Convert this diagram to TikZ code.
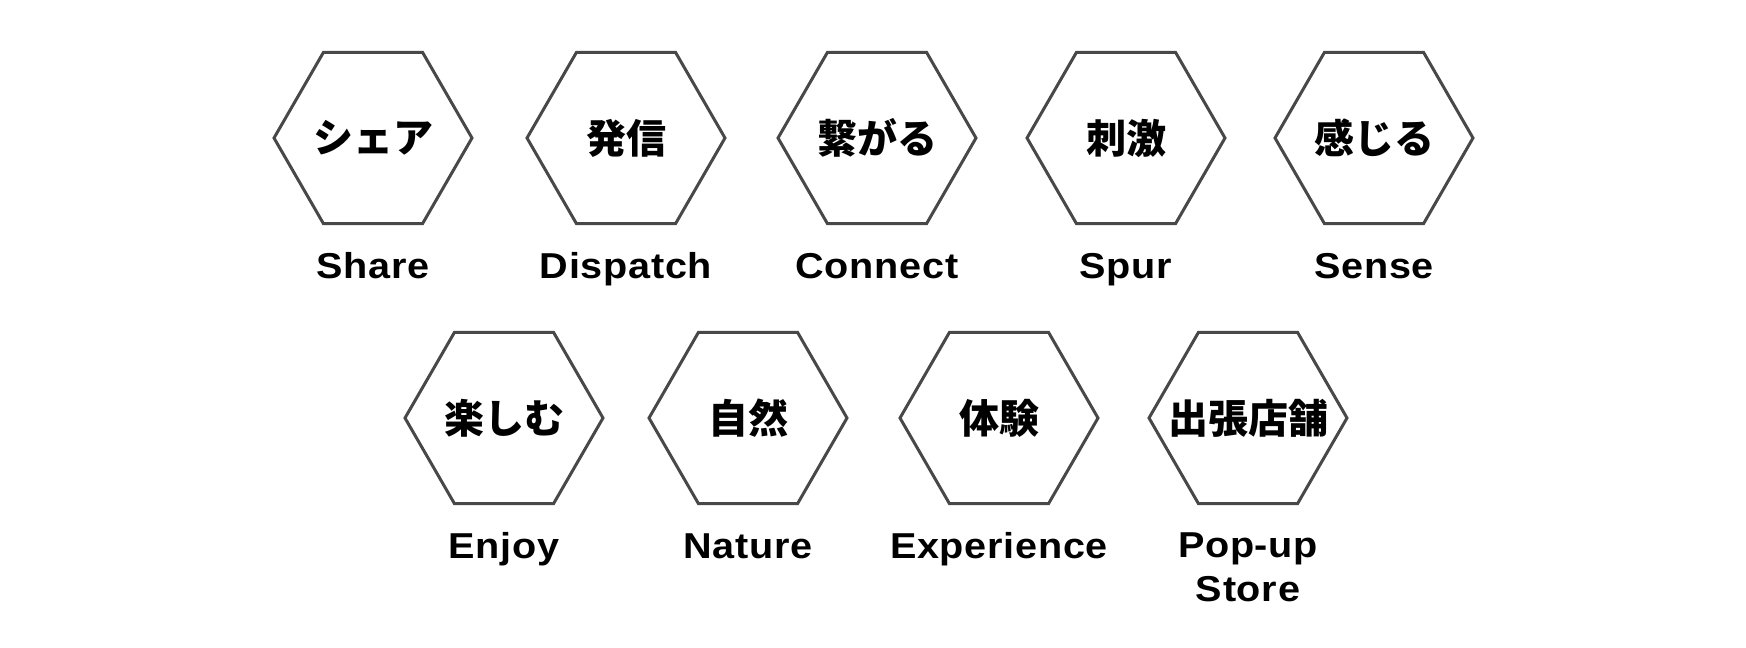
\documentclass[tikz,border=0pt]{standalone}
\usepackage{fontspec}
\usetikzlibrary{shapes.geometric}
\newfontfamily\jpfont{Noto Sans CJK JP}
\newfontfamily\enfont{Liberation Sans}[FakeStretch=1.1,LetterSpace=2]
\definecolor{hexgray}{RGB}{72,72,72}
\tikzset{
  hexcell/.style={regular polygon, regular polygon sides=6,
    minimum size=99pt, inner sep=0pt, draw=hexgray, line width=1.5pt},
  jplabel/.style={inner sep=0pt, font=\jpfont\bfseries\fontsize{20}{24}\selectfont},
  enlabel/.style={anchor=base, align=center,
    font=\enfont\bfseries\fontsize{18}{21.7}\selectfont},
}
\begin{document}
\begin{tikzpicture}[x=0.5pt,y=-0.5pt]

\useasboundingbox (0,0) rectangle (1746,648);

% -------- Row 1 --------
\foreach \x/\nm/\jp/\en in {373/share/シェア/Share, 626/dispatch/発信/Dispatch,
    877/connect/繋がる/Connect, 1126/spur/刺激/Spur, 1374/sense/感じる/Sense}{
  \node[hexcell] (\nm) at (\x,138) {};
  \node[jplabel] (\nm-jp) at (\nm) {\jp};
  \node[enlabel] (\nm-en) at (\x,278) {\en};
}

% -------- Row 2 --------
% (base of a two-line label sits on its last line)
\foreach \x/\nm/\jp/\en/\yb in {504/enjoy/楽しむ/Enjoy/558, 748/nature/自然/Nature/558,
    999/experience/体験/Experience/558, 1248/popup/出張店舗/{Pop-up\\Store}/601}{
  \node[hexcell] (\nm) at (\x,418) {};
  \node[jplabel] (\nm-jp) at (\nm) {\jp};
  \node[enlabel] (\nm-en) at (\x,\yb) {\en};
}

\end{tikzpicture}
\end{document}
